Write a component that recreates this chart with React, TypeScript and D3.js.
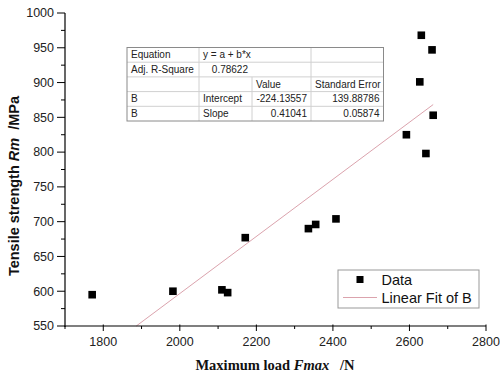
import React from "react";
import * as d3 from "d3";

const loads = [1771, 1982, 2110, 2125, 2171, 2336, 2355, 2408, 2631, 2659, 2627, 2662, 2592, 2643];
const strengths = [595, 600, 602, 598, 677, 690, 696, 704, 968, 947, 901, 853, 825, 798];
const xTicks = [1800, 2000, 2200, 2400, 2600, 2800];
const yTicks = [550, 600, 650, 700, 750, 800, 850, 900, 950, 1000];
const fitIntercept = -224.13557;
const fitSlope = 0.41041;
const tableRows = [
  ["Equation", "y = a + b*x", "", ""],
  ["Adj. R-Square", "0.78622", "", ""],
  ["", "", "Value", "Standard Error"],
  ["B", "Intercept", "-224.13557", "139.88786"],
  ["B", "Slope", "0.41041", "0.05874"],
];
const legendLabels = ["Data", "Linear Fit of B"];

const W = 500, H = 376;
const L = 65, R = 486, T = 13, B = 326;

export default function App() {
  const x = d3.scaleLinear().domain([1700, 2800]).range([L, R]);
  const y = d3.scaleLinear().domain([550, 1000]).range([B, T]);
  const xMinor = d3.range(1700, 2801, 100).filter((v) => !xTicks.includes(v));
  const yMinor = d3.range(575, 1000, 50);

  const xMin = d3.min(loads)!, xMax = d3.max(loads)!;
  const xStart = Math.max(xMin, (550 - fitIntercept) / fitSlope);
  const line = d3.line<number>().x((v) => x(v)).y((v) => y(fitIntercept + fitSlope * v));

  // table geometry
  const tx = 127, ty = 47.5, rowH = 14.7;
  const colX = [127, 199, 252, 311, 383.5];
  const tableH = rowH * tableRows.length;

  return (
    <svg width={W} height={H} style={{ position: "absolute", left: 0, top: 0, background: "#fff" }}
      fontFamily="Arial, Liberation Sans, sans-serif">
      {/* fit line */}
      <path d={line([xStart, xMax]) || ""} fill="none" stroke="#dba3ad" strokeWidth={1} />
      {/* data */}
      {loads.map((v, i) => (
        <rect key={i} x={x(v) - 3.8} y={y(strengths[i]) - 3.8} width={7.6} height={7.6} fill="#000" />
      ))}
      {/* axes */}
      <line x1={L} x2={L} y1={T} y2={B + 1} stroke="#000" strokeWidth={1.2} />
      <line x1={L - 0.5} x2={R} y1={B} y2={B} stroke="#000" strokeWidth={1.2} />
      {yTicks.map((t) => (
        <g key={t}>
          <line x1={L - 8} x2={L} y1={y(t)} y2={y(t)} stroke="#000" strokeWidth={1} />
          <text x={L - 11} y={y(t)} dy="0.35em" textAnchor="end" fontSize={12.5} fill="#222">{t}</text>
        </g>
      ))}
      {yMinor.map((t) => (
        <line key={t} x1={L - 4} x2={L} y1={y(t)} y2={y(t)} stroke="#000" strokeWidth={1} />
      ))}
      {xTicks.map((t) => (
        <g key={t}>
          <line x1={x(t)} x2={x(t)} y1={B - 1.5} y2={B + 5} stroke="#000" strokeWidth={1} />
          <text x={x(t)} y={B + 20} textAnchor="middle" fontSize={12.5} fill="#222">{t}</text>
        </g>
      ))}
      {xMinor.map((t) => (
        <line key={t} x1={x(t)} x2={x(t)} y1={B} y2={B + 3} stroke="#000" strokeWidth={1} />
      ))}
      {/* axis titles */}
      <text x={366 / 2 + 92} y={370} textAnchor="middle" fontFamily="Liberation Serif, Times New Roman, serif"
        fontWeight="bold" fontSize={14.5} fill="#111">
        Maximum load <tspan fontStyle="italic">Fmax</tspan>{"\u00A0\u00A0\u00A0/N"}
      </text>
      <text transform={`translate(19,${186}) rotate(-90)`} textAnchor="middle" fontWeight="bold" fontSize={14.5} fill="#111">
        Tensile strength <tspan fontStyle="italic">Rm</tspan>{"\u00A0\u00A0/MPa"}
      </text>
      {/* table */}
      <g>
        <rect x={tx} y={ty} width={colX[4] - tx} height={tableH} fill="#fff" stroke="none" />
        {d3.range(1, tableRows.length).map((i) => (
          <line key={"r" + i} x1={tx} x2={colX[4]} y1={ty + i * rowH} y2={ty + i * rowH} stroke="#d0d0d0" strokeWidth={1} />
        ))}
        {[1, 2, 3].map((c) => (
          <line key={"c" + c} x1={colX[c]} x2={colX[c]}
            y1={c === 2 ? ty + 2 * rowH : ty} y2={ty + tableH} stroke="#d0d0d0" strokeWidth={1} />
        ))}
        <rect x={tx} y={ty} width={colX[4] - tx} height={tableH} fill="none" stroke="#8a8a8a" strokeWidth={1} />
        {tableRows.map((row, r) =>
          row.map((cell, c) => {
            if (!cell) return null;
            const isNum = /^-?\d/.test(cell);
            const cy = ty + r * rowH + rowH / 2;
            const xx = isNum ? colX[c + 1] - 4 : colX[c] + 4;
            return (
              <text key={r + "-" + c} x={xx} y={cy} dy="0.35em" textAnchor={isNum ? "end" : "start"}
                fontSize={10} fill="#222">{cell}</text>
            );
          })
        )}
      </g>
      {/* legend */}
      <g>
        <rect x={338} y={270} width={141} height={38} fill="#fff" stroke="#999" strokeWidth={1} />
        <rect x={360 - 3.5} y={279.5 - 3.5} width={7} height={7} fill="#000" />
        <text x={381.5} y={279.5} dy="0.35em" fontSize={14.5} fill="#111">{legendLabels[0]}</text>
        <line x1={343} x2={377} y1={297.5} y2={297.5} stroke="#dba3ad" strokeWidth={1} />
        <text x={381.5} y={297.5} dy="0.35em" fontSize={14.5} fill="#111">{legendLabels[1]}</text>
      </g>
    </svg>
  );
}
